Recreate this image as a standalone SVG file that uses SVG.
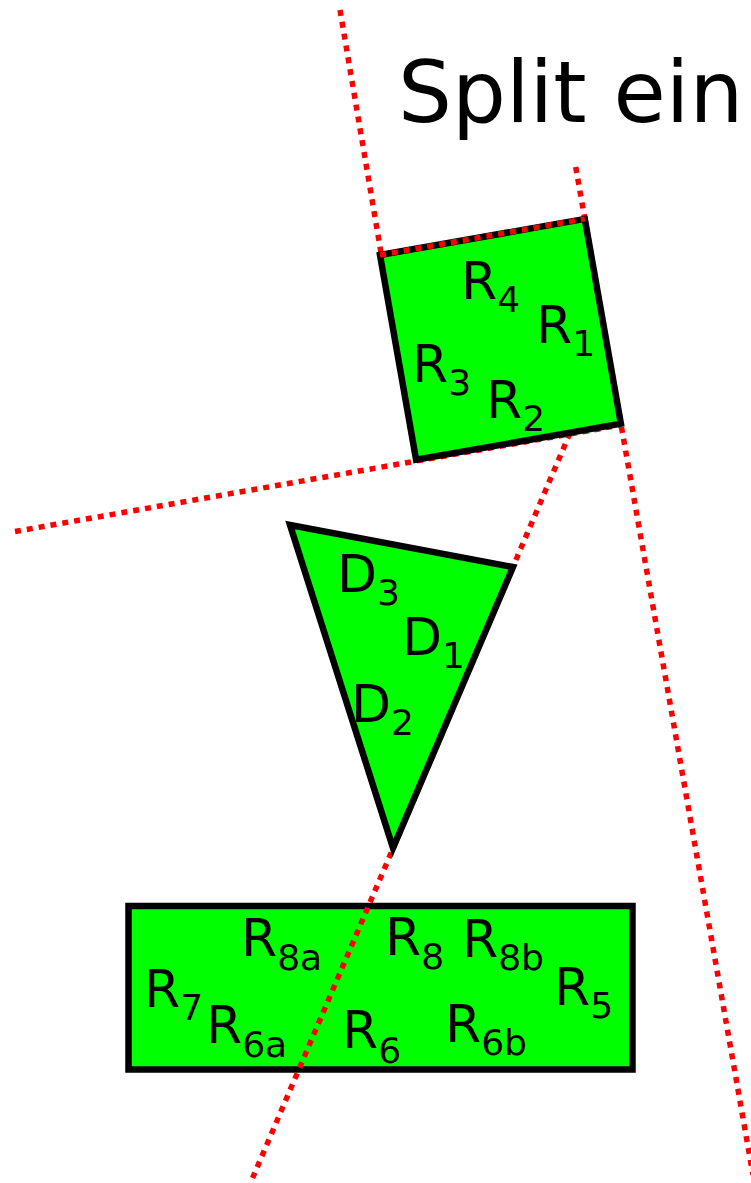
<svg xmlns="http://www.w3.org/2000/svg" width="751" height="1183" viewBox="0 0 751 1183">
<style>
.shape{fill:#00ff00;stroke:#000;stroke-width:6.5;stroke-linejoin:miter}
.cut{fill:none;stroke:#ff0000;stroke-width:5.5;stroke-dasharray:6 6}
.lbl{font-family:"DejaVu Sans",Verdana,sans-serif;font-size:52px;fill:#000}
.sub{font-size:36px}
.title{font-family:"DejaVu Sans",Verdana,sans-serif;font-size:85px;fill:#000}
</style>
<rect width="751" height="1183" fill="#fff"/>
<text class="title" x="398" y="122">Split ein</text>
<g id="rect-node">
<rect class="shape" x="128.5" y="906" width="504" height="163.5"/>
</g>
<g id="connectors">
<line class="cut" x1="570" y1="433" x2="252.6" y2="1178"/>
<line class="cut" x1="340" y1="10" x2="416" y2="460"/>
<line class="cut" x1="575.7" y1="167" x2="753" y2="1175"/>
<line class="cut" x1="15" y1="531.5" x2="621" y2="425"/>
</g>
<g id="triangle-node">
<polygon class="shape" points="290,525 513,567 393,848"/>
<text class="lbl" x="337" y="592">D<tspan class="sub" dy="13">3</tspan></text>
<text class="lbl" x="402" y="655">D<tspan class="sub" dy="13">1</tspan></text>
<text class="lbl" x="351" y="722">D<tspan class="sub" dy="13">2</tspan></text>
</g>
<g id="square-node">
<polygon class="shape" points="380,255 584.8,218.9 620.9,423.7 416.1,459.8"/>
<text class="lbl" x="461" y="299">R<tspan class="sub" dy="13">4</tspan></text>
<text class="lbl" x="536" y="343">R<tspan class="sub" dy="13">1</tspan></text>
<text class="lbl" x="412" y="382">R<tspan class="sub" dy="13">3</tspan></text>
<text class="lbl" x="486" y="418">R<tspan class="sub" dy="13">2</tspan></text>
</g>
<g id="top-cut">
<line class="cut" x1="380" y1="255" x2="584.8" y2="218.9"/>
</g>
<g id="rect-labels">
<text class="lbl" x="241" y="956">R<tspan class="sub" dy="14">8a</tspan></text>
<text class="lbl" x="385" y="955">R<tspan class="sub" dy="14">8</tspan></text>
<text class="lbl" x="462" y="957">R<tspan class="sub" dy="13">8b</tspan></text>
<text class="lbl" x="144" y="1007">R<tspan class="sub" dy="13">7</tspan></text>
<text class="lbl" x="206" y="1043">R<tspan class="sub" dy="14">6a</tspan></text>
<text class="lbl" x="342" y="1048">R<tspan class="sub" dy="15">6</tspan></text>
<text class="lbl" x="445" y="1042">R<tspan class="sub" dy="13">6b</tspan></text>
<text class="lbl" x="554" y="1005">R<tspan class="sub" dy="13">5</tspan></text>
</g>
</svg>
